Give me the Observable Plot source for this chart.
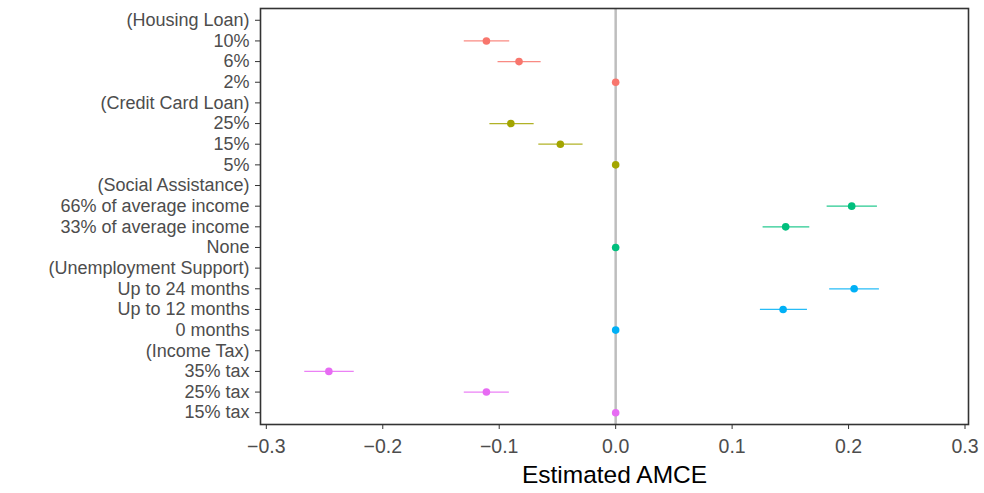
<!DOCTYPE html>
<html>
<head>
<meta charset="utf-8">
<script src="https://cdn.jsdelivr.net/npm/d3@7"></script>
<script src="https://cdn.jsdelivr.net/npm/@observablehq/plot@0.6"></script>
<style>
  html, body { margin: 0; padding: 0; background: #fff; }
</style>
</head>
<body>
<div id="chart"></div>
<script>
const labels = [
  "(Housing Loan)", "10%", "6%", "2%",
  "(Credit Card Loan)", "25%", "15%", "5%",
  "(Social Assistance)", "66% of average income", "33% of average income", "None",
  "(Unemployment Support)", "Up to 24 months", "Up to 12 months", "0 months",
  "(Income Tax)", "35% tax", "25% tax", "15% tax"
];
const groups = [
  "Housing Loan", "Housing Loan", "Housing Loan", "Housing Loan",
  "Credit Card Loan", "Credit Card Loan", "Credit Card Loan", "Credit Card Loan",
  "Social Assistance", "Social Assistance", "Social Assistance", "Social Assistance",
  "Unemployment Support", "Unemployment Support", "Unemployment Support", "Unemployment Support",
  "Income Tax", "Income Tax", "Income Tax", "Income Tax"
];
const estimates = [
  null, -0.111, -0.083, 0,
  null, -0.090, -0.0475, 0,
  null, 0.2027, 0.146, 0,
  null, 0.2048, 0.1438, 0,
  null, -0.2463, -0.111, 0
];
const lower = [
  null, -0.130, -0.101, null,
  null, -0.108, -0.066, null,
  null, 0.1816, 0.1266, null,
  null, 0.1838, 0.1243, null,
  null, -0.267, -0.130, null
];
const upper = [
  null, -0.091, -0.064, null,
  null, -0.070, -0.028, null,
  null, 0.2248, 0.1667, null,
  null, 0.2265, 0.1647, null,
  null, -0.2245, -0.0913, null
];
const groupOrder = ["Housing Loan", "Credit Card Loan", "Social Assistance", "Unemployment Support", "Income Tax"];
const groupColors = ["#F8766D", "#A3A500", "#00BF7D", "#00B0F6", "#E76BF3"];
const xTicks = [-0.3, -0.2, -0.1, 0, 0.1, 0.2, 0.3];

const rows = labels.map((label, i) => ({
  label, group: groups[i], est: estimates[i], lo: lower[i], hi: upper[i]
}));
const ciRows = rows.filter(d => d.lo != null);
const estRows = rows.filter(d => d.est != null);

const chart = Plot.plot({
  width: 984,
  height: 493,
  marginLeft: 260,
  marginRight: 16,
  marginTop: 8,
  marginBottom: 69,
  style: { fontFamily: "'Liberation Sans', Arial, sans-serif", background: "#fff" },
  x: { domain: [-0.305, 0.303], ticks: xTicks, tickFormat: d3.format(".1f") },
  y: { type: "point", domain: labels, padding: 0.57, round: false },
  color: { domain: groupOrder, range: groupColors },
  marks: [
    Plot.ruleX([0], { stroke: "#bebebe", strokeWidth: 2.5 }),
    Plot.ruleY(ciRows, { y: "label", x1: "lo", x2: "hi", stroke: "group", strokeWidth: 1.2, strokeOpacity: 0.85 }),
    Plot.dot(estRows, { x: "est", y: "label", fill: "group", r: 3.8 }),
    Plot.frame({ stroke: "#333333", strokeWidth: 1.6 }),
    Plot.axisX({ ticks: xTicks, tickFormat: d3.format(".1f"), tickSize: 5, tickPadding: 10, fontSize: 19.5, stroke: "#333333", fill: "#4d4d4d", label: null }),
    Plot.axisY({ tickSize: 5, tickPadding: 6, fontSize: 18, stroke: "#333333", fill: "#4d4d4d", label: null }),
    Plot.text(["Estimated AMCE"], { frameAnchor: "bottom", lineAnchor: "middle", dy: 51, fontSize: 24.5, fill: "#000" })
  ]
});
document.getElementById("chart").appendChild(chart);
</script>
</body>
</html>
